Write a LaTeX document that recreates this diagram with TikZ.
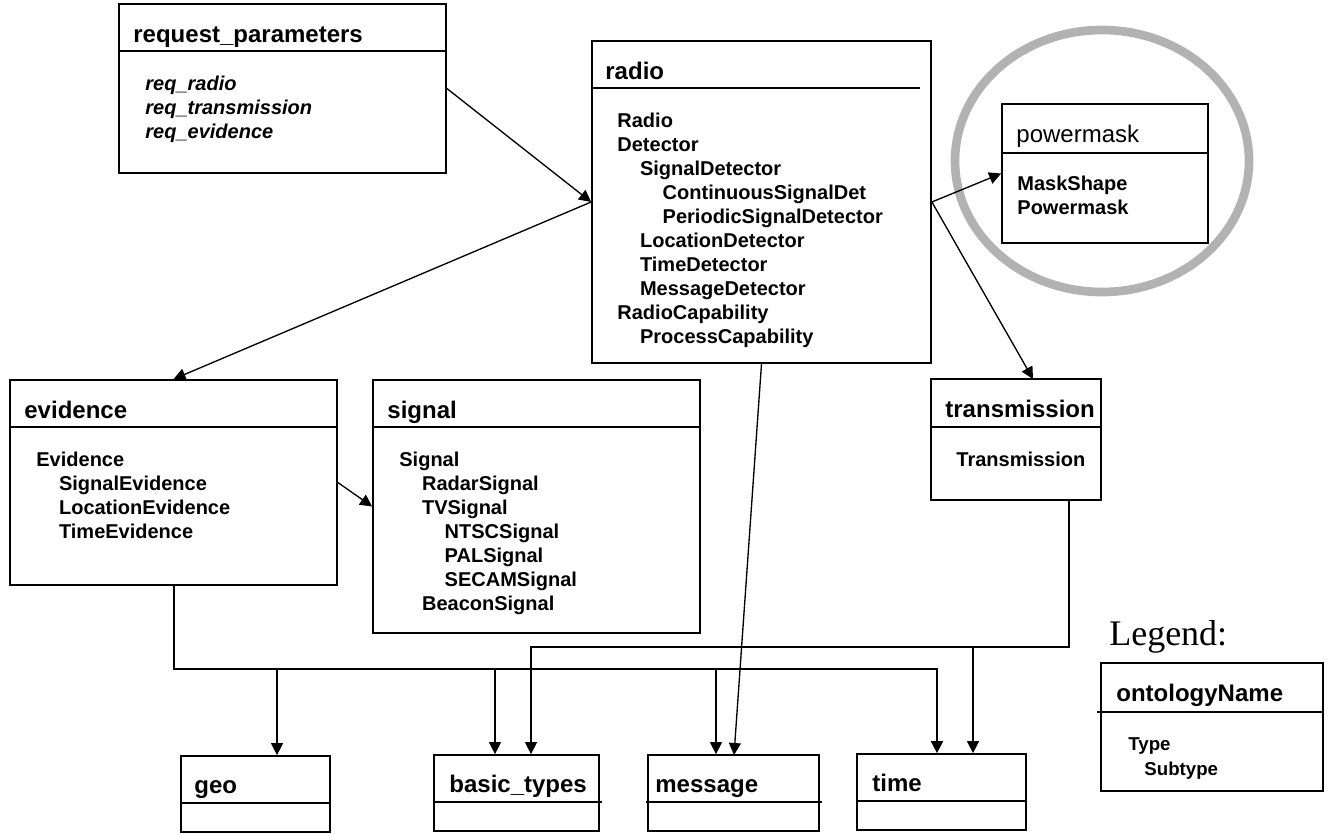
\documentclass[tikz,border=0pt]{standalone}
\usepackage{fontspec}
\setmainfont{Liberation Sans}
\newfontfamily\legendserif{Liberation Serif}
\usepackage{tikz}
\usetikzlibrary{positioning,calc,fit,arrows.meta}

\newcommand{\subind}{\hspace*{17pt}}
\newcommand{\firstline}{\rule{0pt}{12pt}}

\tikzset{
	ontobox/.style={draw, line width=1.3pt, rectangle, inner sep=0pt},
	ontotitle/.style={anchor=base west, inner sep=0pt, font=\fontsize{18}{22}\selectfont\bfseries},
	ontoitems/.style={anchor=north west, align=left, inner sep=0pt, font=\fontsize{15}{18}\selectfont\bfseries},
	headline/.style={line width=1.3pt},
	uses/.style={line width=1pt, -{Triangle[length=9pt,width=9pt]}},
	usesbus/.style={uses, line width=1.5pt},
}

\begin{document}
\begin{tikzpicture}[x=0.75pt,y=-0.75pt]
	\useasboundingbox (0,0) rectangle (1330,833);
	% highlight round powermask
	\draw[black!30, line width=6.5pt] (1102,161) ellipse [x radius=147, y radius=131];

	% request_parameters
	\node[ontobox, fit={(119,4) (446,173)}] (reqbox) {};
	\draw[headline] ($(reqbox.north west)+(0,48)$) -- ($(reqbox.north east)+(0,48)$);
	\node[ontotitle] (reqtitle) at ($(reqbox.north west)+(15,39)$) {request\_parameters};
	\node[ontoitems, font=\fontsize{15}{18}\selectfont\bfseries\itshape] (reqitems) at ($(reqbox.north west)+(27,71)$)
		{\firstline req\_radio\\ req\_transmission\\ req\_evidence};

	% radio
	\node[ontobox, fit={(592,41) (931,363)}] (radio) {};
	\draw[headline] ($(radio.north west)+(0,48)$) -- ($(radio.north east)+(-12,48)$);
	\node[ontotitle] (radiotitle) at ($(radio.north west)+(14,39)$) {radio};
	\node[ontoitems] (radioitems) at ($(radio.north west)+(26,71)$)
		{\firstline Radio\\
		Detector\\
		\subind SignalDetector\\
		\subind\subind ContinuousSignalDet\\
		\subind\subind PeriodicSignalDetector\\
		\subind LocationDetector\\
		\subind TimeDetector\\
		\subind MessageDetector\\
		RadioCapability\\
		\subind ProcessCapability};

	% powermask
	\node[ontobox, fit={(1002,104) (1208,243)}] (powermask) {};
	\draw[headline] ($(powermask.north west)+(0,50)$) -- ($(powermask.north east)+(0,50)$);
	\node[ontotitle, font=\fontsize{18}{22}\selectfont] (pmtitle) at ($(powermask.north west)+(15,39)$) {powermask};
	\node[ontoitems] (pmitems) at ($(powermask.north west)+(16,71)$)
		{\firstline MaskShape\\ Powermask};

	% evidence
	\node[ontobox, fit={(10,380) (337,585)}] (evidence) {};
	\draw[headline] ($(evidence.north west)+(0,48)$) -- ($(evidence.north east)+(0,48)$);
	\node[ontotitle] (evtitle) at ($(evidence.north west)+(15,39)$) {evidence};
	\node[ontoitems] (evitems) at ($(evidence.north west)+(27,71)$)
		{\firstline Evidence\\
		\subind SignalEvidence\\
		\subind LocationEvidence\\
		\subind TimeEvidence};

	% signal
	\node[ontobox, fit={(373,380) (700,633)}] (signal) {};
	\draw[headline] ($(signal.north west)+(0,48)$) -- ($(signal.north east)+(0,48)$);
	\node[ontotitle] (sigtitle) at ($(signal.north west)+(15,39)$) {signal};
	\node[ontoitems] (sigitems) at ($(signal.north west)+(27,71)$)
		{\firstline Signal\\
		\subind RadarSignal\\
		\subind TVSignal\\
		\subind\subind NTSCSignal\\
		\subind\subind PALSignal\\
		\subind\subind SECAMSignal\\
		\subind BeaconSignal};

	% transmission
	\node[ontobox, fit={(931,379) (1101,500)}] (transmission) {};
	\draw[headline] ($(transmission.north west)+(0,49)$) -- ($(transmission.north east)+(0,49)$);
	\node[ontotitle] (trtitle) at ($(transmission.north west)+(15,39)$) {transmission};
	\node[ontoitems] (tritems) at ($(transmission.north west)+(26,72)$)
		{\firstline Transmission};

	% shared ontologies
	\node[ontobox, fit={(181,756) (330,832)}] (geo) {};
	\draw[headline] ($(geo.north west)+(0,48)$) -- ($(geo.north east)+(0,48)$);
	\node[ontotitle] (geotitle) at ($(geo.north west)+(14,38)$) {geo};

	\node[ontobox, fit={(434,755) (599,831)}] (basictypes) {};
	\draw[headline] ($(basictypes.north west)+(0,48)$) -- ($(basictypes.north east)+(2,48)$);
	\node[ontotitle] (bttitle) at ($(basictypes.north west)+(16,38)$) {basic\_types};

	\node[ontobox, fit={(648,755) (819,831)}] (message) {};
	\draw[headline] ($(message.north west)+(-1,48)$) -- ($(message.north east)+(2,48)$);
	\node[ontotitle] (msgtitle) at ($(message.north west)+(8,38)$) {message};

	\node[ontobox, fit={(857,754) (1026,830)}] (time) {};
	\draw[headline] ($(time.north west)+(0,48)$) -- ($(time.north east)+(0,48)$);
	\node[ontotitle] (timetitle) at ($(time.north west)+(16,38)$) {time};

	% legend
	\node[anchor=base west, inner sep=0pt, font=\legendserif\fontsize{27}{30}\selectfont] (legendlabel) at (1109,645) {Legend:};
	\node[ontobox, fit={(1101,663) (1323,791)}] (legend) {};
	\draw[headline] ($(legend.north west)+(-3,50)$) -- ($(legend.north east)+(0,50)$);
	\node[ontotitle] (legtitle) at ($(legend.north west)+(16,39)$) {ontologyName};
	\node[ontoitems, font=\fontsize{14}{18.5}\selectfont\bfseries] (legitems) at ($(legend.north west)+(28,72)$)
		{\firstline Type\\ \hspace*{12pt}Subtype};

	% imports
	\coordinate [] (transin) at (1033,379);
	\coordinate [] (transout) at (1069,500);
	\coordinate [] (msgin) at (734,755);
	\coordinate [] (evbusend) at (937,669);
	\coordinate [] (geoA) at (277,669);
	\coordinate [] (btA) at (495,669);
	\coordinate [] (msgA) at (716,669);
	\coordinate [] (btB) at (531,647);
	\coordinate [] (timeB) at (973,647);

	\draw[uses] (reqbox.east) -- (radio.west);
	\draw[uses] (radio.west) -- (evidence.north);
	\draw[uses] (evidence.east) -- (signal.west);
	\draw[uses] (radio.east) -- (powermask.west);
	\draw[uses] (radio.east) -- (transin);
	\draw[uses] (radio.south) -- (msgin);

	\draw[usesbus] (evidence.south) |- (evbusend) -- (evbusend |- time.north);
	\draw[uses] (geoA) -- (geoA |- geo.north);
	\draw[uses] (btA) -- (btA |- basictypes.north);
	\draw[uses] (msgA) -- (msgA |- message.north);

	\draw[uses] (transout) |- (btB) -- (btB |- basictypes.north);
	\draw[uses] (timeB) -- (timeB |- time.north);
\end{tikzpicture}
\end{document}
